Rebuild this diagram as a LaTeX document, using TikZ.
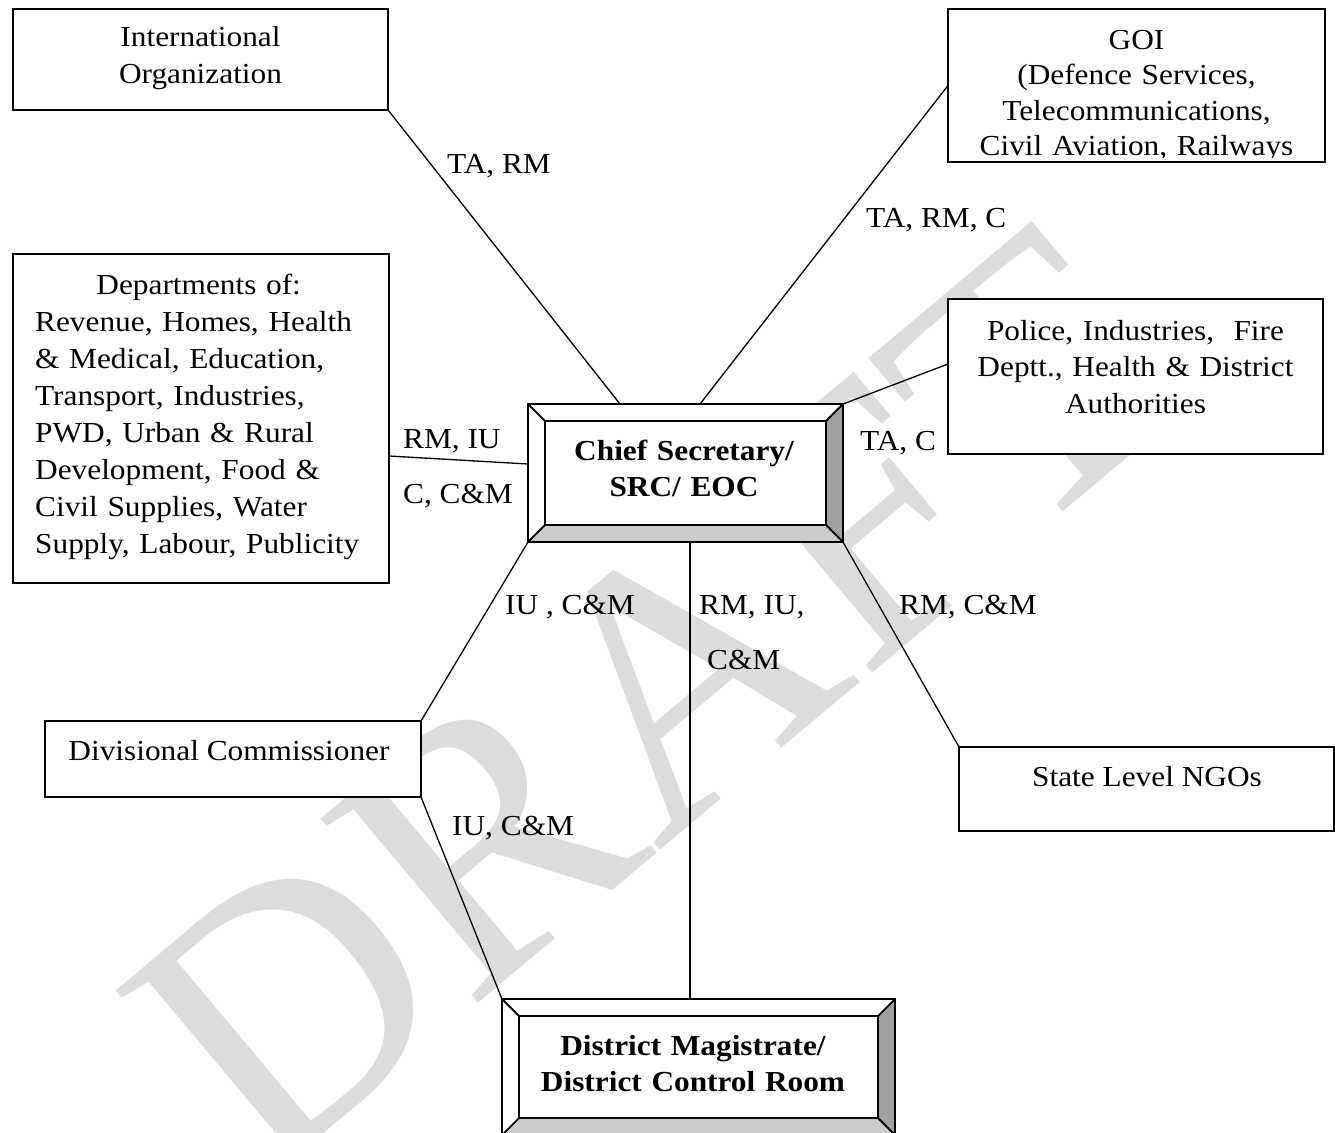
\documentclass[tikz,border=0pt]{standalone}
\usepackage{fontspec}
\setmainfont{Liberation Serif}[FakeStretch=1.08]
\newfontfamily\wmfont{Liberation Serif}
\usetikzlibrary{calc}
\definecolor{bevdark}{HTML}{A0A0A0}
\definecolor{bevlight}{HTML}{CCCCCC}
\definecolor{wmgray}{HTML}{DCDCDC}
\newcommand\mybevel[2]{%
  \fill[white] (#1.north west) rectangle (#1.south east);
  \fill[bevdark] (#1.north east) -- (#1.south east) -- ($(#1.south east)+(-#2,-#2)$) -- ($(#1.north east)+(-#2,#2)$) -- cycle;
  \fill[bevlight] (#1.south west) -- (#1.south east) -- ($(#1.south east)+(-#2,-#2)$) -- ($(#1.south west)+(#2,-#2)$) -- cycle;
  \draw[bevline] (#1.north west) rectangle (#1.south east);
  \draw[bevline] ($(#1.north west)+(#2,#2)$) rectangle ($(#1.south east)+(-#2,-#2)$);
  \draw[bevline] (#1.north west) -- ++(#2,#2);
  \draw[bevline] (#1.north east) -- ++(-#2,#2);
  \draw[bevline] (#1.south east) -- ++(-#2,-#2);
  \draw[bevline] (#1.south west) -- ++(#2,-#2);
}
\begin{document}
\begin{tikzpicture}[x=1pt,y=-1pt,
  box/.style={draw, line width=1.8pt, fill=white, inner sep=0pt, outer sep=0pt},
  frame/.style={inner sep=0pt, outer sep=0pt},
  bevline/.style={line width=1.8pt},
  conn/.style={line width=1.3pt},
  txt/.style={font=\fontsize{29}{37}\selectfont, inner sep=0pt},
  lbl/.style={txt, anchor=base west},
  btxt/.style={txt, anchor=base, align=center},
  bold/.style={font=\fontsize{29}{36}\selectfont\bfseries}
]
\clip (0,0) rectangle (1335,1132);
\fill[white] (0,0) rectangle (1335,1132);
% watermark
\node[rotate=40, text=wmgray, font=\wmfont\fontsize{370}{370}\selectfont, inner sep=0pt] (wm) at (650,700) {DRAFT};

% plain boxes
\node[box, minimum width=375pt, minimum height=101pt] (intl) at (200.5,59.5) {};
\node[box, minimum width=377pt, minimum height=153pt] (goi) at (1136.5,85.5) {};
\node[box, minimum width=376pt, minimum height=329pt] (dept) at (201,418.5) {};
\node[box, minimum width=375pt, minimum height=155pt] (police) at (1135.5,376.5) {};
\node[box, minimum width=376pt, minimum height=76pt] (divc) at (233,759) {};
\node[box, minimum width=375pt, minimum height=84pt] (ngo) at (1146.5,789) {};

% bevelled boxes
\node[frame, minimum width=315pt, minimum height=138pt] (chief) at (685.5,473) {};
\mybevel{chief}{17}
\node[frame, minimum width=393pt, minimum height=136pt] (dm) at (698.5,1067) {};
\mybevel{dm}{17}

% box texts
\node[btxt, text width=360pt] (intlt) at (200.5,47) {International\\Organization};
\begin{scope}
  \clip (948,9) rectangle (1325,157.5);
  \node[btxt, text width=360pt, font=\fontsize{29}{35.5}\selectfont] (goit) at (1136.5,49) {GOI\\(Defence Services,\\Telecommunications,\\Civil Aviation, Railways};
\end{scope}
\node[txt, anchor=base west, text width=345pt, align=left] (deptt) at (35,294) {\makebox[327pt]{Departments of:}\\Revenue, Homes, Health\\\& Medical, Education,\\Transport, Industries,\\PWD, Urban \& Rural\\Development, Food \&\\Civil Supplies, Water\\Supply, Labour, Publicity};
\node[btxt, text width=360pt, font=\fontsize{29}{36.5}\selectfont] (policet) at (1135.5,340) {Police, Industries,\ \ Fire\\Deptt., Health \& District\\Authorities};
\node[txt, anchor=base] (divct) at (229,760) {Divisional Commissioner};
\node[txt, anchor=base] (ngot) at (1147,786) {State Level NGOs};
\node[btxt, bold, text width=300pt] (chieft) at (684,460) {Chief Secretary/\\SRC/ EOC};
\node[btxt, bold, text width=380pt] (dmt) at (693,1055) {District Magistrate/\\District Control Room};

% connectors
\draw[conn] (intl.south east) -- (620,0 |- chief.north);
\draw[conn] (goi.west) -- (700,0 |- chief.north);
\draw[conn] (police.west |- 0,364) -- (chief.north east);
\draw[conn] (dept.east |- 0,456) -- (chief.west |- 0,464);
\draw[conn] (chief.south west) -- (divc.north east);
\draw[conn] (divc.south east) -- (dm.north west);
\draw[conn] (690,0 |- chief.south) -- (690,0 |- dm.north);
\draw[conn] (chief.south east) -- (ngo.north west);

% connector labels
\node[lbl] (l1) at (447,173) {TA, RM};
\node[lbl] (l2) at (866,227) {TA, RM, C};
\node[lbl] (l3) at (860,450) {TA, C};
\node[lbl] (l4) at (403,448) {RM, IU};
\node[lbl] (l5) at (403,503) {C, C\&M};
\node[lbl] (l6) at (505,614) {IU , C\&M};
\node[lbl] (l7) at (699,614) {RM, IU,};
\node[lbl] (l8) at (707,669) {C\&M};
\node[lbl] (l9) at (899,614) {RM, C\&M};
\node[lbl] (l10) at (452,835) {IU, C\&M};
\end{tikzpicture}
\end{document}
